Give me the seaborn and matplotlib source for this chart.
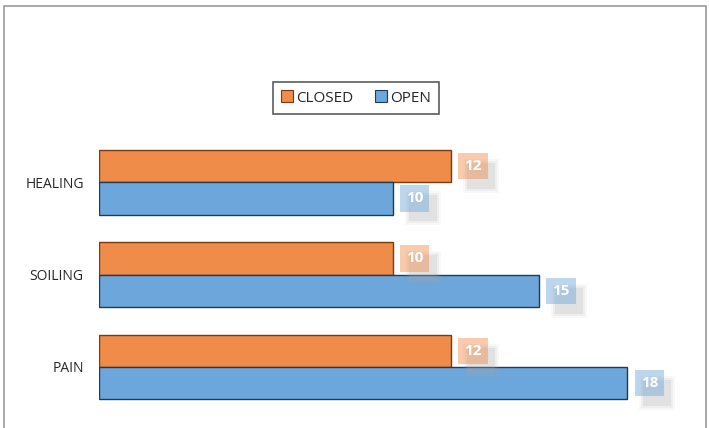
import pandas as pd
import matplotlib
matplotlib.use("Agg")
import matplotlib.pyplot as plt
import matplotlib.transforms as mtransforms
import seaborn as sns
from matplotlib.patches import Rectangle

categories = ["HEALING", "SOILING", "PAIN"]
closed_vals = [12, 10, 12]
open_vals = [10, 15, 18]
series = ["CLOSED", "OPEN"]
colors = {"CLOSED": "#F08C4A", "OPEN": "#6CA6DA"}
edges = {"CLOSED": "#7a3a10", "OPEN": "#1f3b5c"}

df = pd.DataFrame({
    "category": categories * 2,
    "value": closed_vals + open_vals,
    "series": ["CLOSED"] * 3 + ["OPEN"] * 3,
})

sns.set_theme(style="white")
plt.rcParams["font.family"] = ["Open Sans", "DejaVu Sans"]

fig = plt.figure(figsize=(7.09, 4.28), dpi=100)
ax = fig.add_axes([0.1396, 0.035, 0.828, 0.647])

sns.barplot(data=df, y="category", x="value", hue="series", order=categories,
            hue_order=series, palette=colors, orient="h", width=0.7,
            ax=ax, saturation=1)
ax.set_xlim(0, 20)

# label box size in pixels
bw, bh = 28, 26
for container, s in zip(ax.containers, series):
    for bar in container:
        bar.set_edgecolor(edges[s])
        bar.set_linewidth(1.0)
        w = bar.get_width()
        yc = bar.get_y() + bar.get_height() / 2
        anchor = mtransforms.ScaledTranslation(w, yc, ax.transData)
        # soft shadow behind the label box
        for grow, a in [(8, 0.08), (4, 0.12), (0, 0.18)]:
            cx, cy = 22 + 8, -10
            tr = mtransforms.Affine2D().translate(cx - (bw + grow) / 2, cy - (bh + grow) / 2) + anchor
            ax.add_artist(Rectangle((0, 0), bw + grow, bh + grow, transform=tr,
                                    fc="#a8a8a8", ec="none", alpha=a, zorder=3))
        ax.annotate(str(int(w)), xy=(w, yc), xytext=(22, 0), textcoords="offset pixels",
                    ha="center", va="center", fontsize=11, fontweight="bold", color="white",
                    zorder=5,
                    bbox=dict(boxstyle="square,pad=0.4", fc=colors[s], ec="none", alpha=0.45))

ax.set_xlabel("")
ax.set_ylabel("")
ax.set_xticks([])
ax.tick_params(axis="y", length=0, labelsize=10, pad=11)
for sp in ax.spines.values():
    sp.set_visible(False)

ax.legend_.remove()
handles = [Rectangle((0, 0), 1, 1, fc=colors[s], ec=edges[s], lw=0.8) for s in series]
lg = fig.legend(handles, series, loc="center", bbox_to_anchor=(0.502, 0.771), ncol=2,
                frameon=True, fancybox=False, edgecolor="#333333", fontsize=11,
                handlelength=0.8, handleheight=0.8, handletextpad=0.2, columnspacing=1.4,
                borderpad=0.55, borderaxespad=0)
lg.get_frame().set_linewidth(1.2)

fig.patches.append(Rectangle((4 / 709, -0.02), 702 / 709, 1 - 6 / 428 + 0.02,
                             transform=fig.transFigure, fill=False, ec="#999999", lw=1.2))

fig.savefig("out.png", dpi=100)
